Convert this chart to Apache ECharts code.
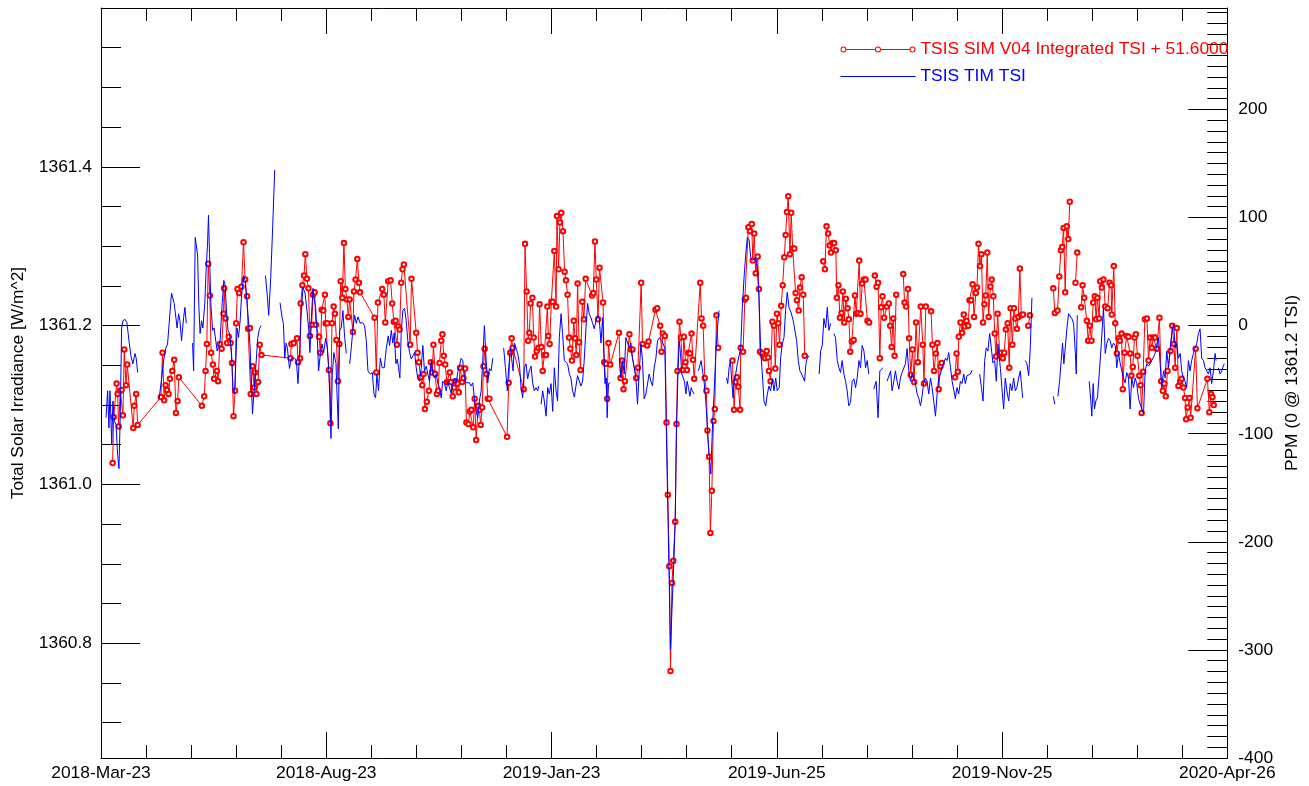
<!DOCTYPE html>
<html><head><meta charset="utf-8">
<script src="https://cdn.jsdelivr.net/npm/echarts@6/dist/echarts.min.js"></script>
<style>html,body{margin:0;padding:0;background:#fff}#c{width:1309px;height:786px}</style>
</head><body><div id="c"></div>
<script>
// x = days since 2018-03-23
const xTickDays = [0,153,306,459,612,765];
const xTickLabels = ['2018-Mar-23','2018-Aug-23','2019-Jan-23','2019-Jun-25','2019-Nov-25','2020-Apr-26'];
const leftMajor = [1360.8,1361.0,1361.2,1361.4];
const rightMajor = [-400,-300,-200,-100,0,100,200];
const simName = 'TSIS SIM V04 Integrated TSI + 51.6000';
const timName = 'TSIS TIM TSI';

// TSIS TIM TSI [day, W/m^2]; null = data gap
const timTSI = [
[3.4,1361.084],[4.5,1361.118],[5.4,1361.071],[6.1,1361.118],[7.3,1361.051],[8.1,1361.105],[9.0,1361.080],[10.2,1361.076],[11.3,1361.038],[12.2,1361.020],[13.1,1361.089],[14.0,1361.197],[14.9,1361.206],[16.3,1361.208],[17.6,1361.204],[19.0,1361.181],[20.3,1361.162],[21.7,1361.152],[23.1,1361.165],[23.9,1361.159],[24.9,1361.141],null,
[39.5,1361.108],[41.2,1361.134],[42.5,1361.156],[44.1,1361.172],[45.2,1361.177],[46.3,1361.203],[47.9,1361.241],[48.8,1361.242],[49.7,1361.228],[50.9,1361.229],[51.7,1361.197],[52.7,1361.215],[53.6,1361.206],[54.7,1361.181],[56.1,1361.210],[57.0,1361.223],[57.9,1361.203],null,
[62.2,1361.178],[62.9,1361.143],[64.0,1361.311],[65.6,1361.289],[66.5,1361.223],[67.3,1361.190],[68.3,1361.206],[69.2,1361.197],[70.5,1361.228],[71.4,1361.270],[72.4,1361.304],[73.0,1361.339],[73.7,1361.291],[74.6,1361.228],[75.8,1361.194],[76.8,1361.197],[78.9,1361.168],[80.9,1361.181],[82.3,1361.228],[83.4,1361.257],[84.3,1361.251],[85.5,1361.210],[86.3,1361.194],[87.3,1361.190],[88.6,1361.168],[89.7,1361.118],[90.7,1361.114],[91.6,1361.156],[92.4,1361.197],[93.4,1361.185],[94.5,1361.206],[95.6,1361.241],[96.8,1361.263],[97.9,1361.257],[99.0,1361.232],[100.2,1361.206],[101.3,1361.172],[102.2,1361.122],[102.9,1361.089],[104.0,1361.118],[105.3,1361.152],[106.5,1361.185],[107.6,1361.196],[108.7,1361.200],null,
[111.7,1361.263],[112.8,1361.241],[113.9,1361.213],[115.3,1361.261],[116.6,1361.324],[118.0,1361.396],null,
[121.6,1361.229],[123.0,1361.210],[123.9,1361.203],[124.8,1361.159],[125.7,1361.178],[126.6,1361.172],[128.0,1361.146],[129.3,1361.159],[131.4,1361.159],[132.7,1361.156],[133.8,1361.127],[135.0,1361.172],[136.1,1361.219],[137.2,1361.248],[138.6,1361.241],[139.9,1361.219],[141.1,1361.194],[141.9,1361.166],[142.9,1361.210],[144.0,1361.247],[144.9,1361.232],[145.8,1361.223],[147.0,1361.181],[147.8,1361.143],[149.0,1361.165],[150.1,1361.177],[151.2,1361.166],[152.6,1361.184],[153.7,1361.172],[154.6,1361.147],[155.5,1361.114],[156.2,1361.058],[157.1,1361.139],[158.2,1361.166],[159.6,1361.152],[160.3,1361.114],[161.2,1361.070],[162.1,1361.194],[163.2,1361.197],[164.3,1361.219],[165.5,1361.185],[166.6,1361.165],null,
[168.9,1361.152],[170.0,1361.172],[171.1,1361.196],[172.3,1361.213],[173.4,1361.203],[174.5,1361.211],[176.1,1361.203],[177.5,1361.204],[179.0,1361.200],[180.2,1361.181],[181.3,1361.143],[182.9,1361.139],[184.3,1361.141],[185.4,1361.114],[186.5,1361.109],[187.4,1361.139],[188.5,1361.118],[189.7,1361.159],[191.0,1361.147],[192.4,1361.147],[193.8,1361.172],[195.1,1361.187],[196.0,1361.175],[197.2,1361.194],[198.2,1361.178],[199.2,1361.191],[200.3,1361.152],[201.2,1361.158],[202.1,1361.147],[203.0,1361.134],[203.9,1361.190],[205.0,1361.219],[206.2,1361.222],[207.3,1361.206],[208.4,1361.181],[209.6,1361.166],[210.7,1361.158],[211.8,1361.159],[213.0,1361.166],[214.1,1361.147],[215.2,1361.133],[216.3,1361.130],[217.5,1361.146],[218.6,1361.175],[219.7,1361.143],[220.9,1361.149],[222.0,1361.139],[223.1,1361.130],[224.3,1361.156],[225.4,1361.139],[226.5,1361.134],[227.7,1361.139],[228.8,1361.127],[229.9,1361.122],[231.1,1361.109],[232.1,1361.130],[233.3,1361.127],[234.5,1361.118],[235.5,1361.130],[236.7,1361.122],[237.8,1361.115],[238.9,1361.127],[240.1,1361.134],[241.2,1361.127],[242.3,1361.141],[243.5,1361.149],[244.6,1361.159],[245.7,1361.156],[246.9,1361.133],[248.0,1361.128],[249.1,1361.130],[250.3,1361.128],[251.4,1361.124],[252.5,1361.128],[253.6,1361.109],[254.8,1361.092],[255.9,1361.084],[257.0,1361.105],[258.2,1361.118],[259.3,1361.156],[260.4,1361.200],[261.6,1361.156],[262.7,1361.128],[263.8,1361.146],[265.0,1361.143],[266.1,1361.159],null,
[273.5,1361.172],[274.7,1361.147],[276.0,1361.118],[276.9,1361.147],[278.1,1361.172],[278.9,1361.159],[279.9,1361.143],[280.8,1361.178],[281.9,1361.172],[283.0,1361.165],[284.2,1361.152],[285.3,1361.122],[286.4,1361.109],[287.6,1361.147],[288.7,1361.152],[289.8,1361.133],[290.9,1361.143],[292.1,1361.149],[293.2,1361.128],[294.3,1361.118],[295.5,1361.122],[296.6,1361.118],[297.3,1361.124],null,
[298.9,1361.101],[300.0,1361.118],[301.1,1361.105],[302.3,1361.086],[303.4,1361.122],[304.5,1361.114],[305.7,1361.127],[306.8,1361.092],[307.9,1361.147],[309.1,1361.118],[310.1,1361.105],[311.3,1361.185],[312.5,1361.215],[313.5,1361.190],[314.7,1361.156],[315.8,1361.156],[316.9,1361.152],[318.1,1361.139],[319.2,1361.134],[320.3,1361.118],[321.5,1361.110],[322.6,1361.124],[323.7,1361.137],[324.9,1361.139],[326.0,1361.124],[327.1,1361.130],[328.2,1361.156],[329.4,1361.197],[330.5,1361.228],[331.6,1361.215],[332.8,1361.210],[333.9,1361.203],[335.0,1361.196],[336.2,1361.206],[337.3,1361.213],[338.4,1361.209],[339.6,1361.178],[340.7,1361.210],[341.4,1361.172],[342.3,1361.127],[343.2,1361.134],[343.8,1361.084],[344.7,1361.127],[345.9,1361.128],null,
[352.0,1361.159],[353.1,1361.134],[354.3,1361.156],[355.4,1361.139],[356.5,1361.185],[357.6,1361.187],[358.8,1361.172],[359.9,1361.178],[361.0,1361.159],[362.2,1361.147],[363.3,1361.134],[364.4,1361.101],[365.5,1361.139],[366.7,1361.177],[367.8,1361.156],[368.9,1361.108],[370.1,1361.114],[371.2,1361.114],[372.3,1361.139],[373.5,1361.130],[374.6,1361.124],[375.7,1361.147],[376.9,1361.159],[378.0,1361.181],[379.3,1361.185],[380.7,1361.181],[381.6,1361.178],[383.0,1361.172],[383.9,1361.076],[384.8,1360.987],[385.7,1360.903],[386.8,1360.792],[388.2,1360.861],[389.1,1360.903],[390.0,1360.953],[390.9,1361.071],[391.8,1361.134],[392.7,1361.181],[393.6,1361.165],[394.5,1361.139],[395.4,1361.141],[396.3,1361.130],[397.3,1361.114],[398.1,1361.130],[399.0,1361.122],[400.0,1361.111],[400.9,1361.122],[401.7,1361.118],[402.9,1361.114],null,
[405.8,1361.143],[406.7,1361.141],[407.6,1361.156],[408.5,1361.156],[409.6,1361.130],[410.8,1361.105],[411.9,1361.071],[413.0,1361.038],[414.2,1361.013],[415.3,1361.071],[416.4,1361.114],[417.6,1361.165],[418.7,1361.197],[419.8,1361.219],null,
[424.8,1361.134],[425.7,1361.127],[426.6,1361.147],[427.5,1361.156],[428.4,1361.130],[429.3,1361.109],[430.2,1361.134],[431.1,1361.139],[432.2,1361.152],[433.4,1361.153],[434.5,1361.172],[435.6,1361.223],[436.8,1361.261],[437.9,1361.289],[439.0,1361.311],[440.2,1361.308],[441.3,1361.286],[442.4,1361.282],[443.5,1361.282],[444.7,1361.286],[445.8,1361.273],[446.9,1361.235],[448.1,1361.168],[449.2,1361.139],[450.3,1361.105],[451.5,1361.099],[452.6,1361.114],[453.7,1361.124],[454.8,1361.118],[456.0,1361.133],[457.1,1361.118],[458.3,1361.134],[459.3,1361.118],[460.7,1361.122],[461.6,1361.159],[462.7,1361.177],[463.9,1361.185],[465.0,1361.219],[466.1,1361.242],[467.3,1361.223],[468.8,1361.216],[470.2,1361.206],[471.3,1361.204],[472.5,1361.181],[473.6,1361.156],[474.7,1361.143],[475.9,1361.139],[477.0,1361.134],[477.9,1361.130],[478.8,1361.152],[479.7,1361.159],[480.8,1361.162],null,
[487.8,1361.139],[488.8,1361.168],[489.9,1361.175],[491.0,1361.209],[492.2,1361.197],[493.3,1361.223],[494.4,1361.194],[495.6,1361.203],null,
[497.8,1361.190],[498.9,1361.185],[500.1,1361.156],[501.2,1361.147],[502.3,1361.141],[503.4,1361.156],[504.6,1361.139],[505.7,1361.130],[506.8,1361.118],[507.9,1361.099],[509.1,1361.103],[510.2,1361.130],[511.4,1361.133],[512.5,1361.122],[513.6,1361.134],[514.8,1361.156],[515.9,1361.147],[517.0,1361.175],[518.2,1361.168],[519.3,1361.147],[520.4,1361.156],[521.5,1361.139],null,
[524.9,1361.120],[526.5,1361.130],[527.8,1361.084],[529.0,1361.143],[530.1,1361.141],[531.2,1361.147],null,
[533.9,1361.130],[535.1,1361.128],[536.3,1361.143],[537.3,1361.118],[538.5,1361.130],[539.6,1361.143],[540.7,1361.130],[541.9,1361.120],[543.0,1361.134],[544.1,1361.141],[545.3,1361.139],[546.4,1361.152],[547.5,1361.171],[548.7,1361.143],[549.8,1361.130],[550.9,1361.139],[552.1,1361.139],[553.2,1361.127],[554.3,1361.114],[555.4,1361.109],[556.6,1361.099],[557.7,1361.111],[558.8,1361.128],[560.0,1361.134],[561.1,1361.130],[562.2,1361.114],[563.4,1361.134],[564.5,1361.122],[565.6,1361.105],[566.8,1361.086],[567.9,1361.114],[569.0,1361.134],[570.2,1361.139],[571.3,1361.147],[572.4,1361.153],[573.6,1361.159],[574.7,1361.156],[575.8,1361.166],[577.0,1361.147],[578.1,1361.130],[579.3,1361.130],[580.3,1361.108],[581.4,1361.122],[582.6,1361.114],[583.7,1361.130],[584.8,1361.127],[586.0,1361.139],[587.1,1361.127],[588.2,1361.137],[589.4,1361.139],[590.5,1361.139],[591.6,1361.144],null,
[596.8,1361.139],[598.0,1361.122],[599.1,1361.105],[600.2,1361.156],[601.3,1361.172],[602.4,1361.168],[603.6,1361.190],[604.7,1361.172],[605.8,1361.153],[607.0,1361.156],[608.1,1361.130],[609.2,1361.177],[610.9,1361.146],[611.9,1361.122],[613.1,1361.095],[614.2,1361.134],[615.3,1361.118],[616.5,1361.105],[617.6,1361.127],[618.7,1361.118],[619.9,1361.134],[621.0,1361.118],[622.1,1361.122],[623.3,1361.134],[624.4,1361.143],[626.0,1361.109],null,
[627.8,1361.156],[628.9,1361.152],[630.1,1361.137],[631.2,1361.172],[632.3,1361.235],null,
[646.8,1361.111],[647.9,1361.101],null,
[649.9,1361.111],[651.1,1361.130],[652.2,1361.156],[653.1,1361.178],[654.0,1361.152],[655.0,1361.152],[656.1,1361.197],[657.2,1361.215],[658.4,1361.216],[659.4,1361.209],[660.6,1361.203],[661.8,1361.165],[662.4,1361.139],[663.1,1361.213],null,
[671.2,1361.130],[672.3,1361.105],[673.0,1361.086],[673.9,1361.127],[674.8,1361.095],[675.7,1361.105],[676.8,1361.109],[678.0,1361.139],[679.1,1361.168],[680.2,1361.168],[680.9,1361.222],[682.1,1361.165],[683.1,1361.177],[684.3,1361.184],[685.5,1361.181],[686.5,1361.172],[687.7,1361.178],[688.9,1361.175],[689.9,1361.147],[691.1,1361.165],[692.3,1361.152],[693.3,1361.152],[694.5,1361.134],[695.6,1361.128],[696.7,1361.141],[697.9,1361.134],[699.0,1361.095],[700.1,1361.134],[701.3,1361.122],[702.4,1361.134],[703.5,1361.127],[704.7,1361.108],[705.8,1361.108],[706.9,1361.095],[708.1,1361.089],[709.2,1361.143],[710.3,1361.152],[711.5,1361.149],[713.7,1361.156],[716.0,1361.165],[718.2,1361.185],[719.4,1361.152],[720.5,1361.122],[721.7,1361.143],[722.8,1361.134],[723.9,1361.168],[725.1,1361.147],[726.2,1361.172],[727.3,1361.190],[728.5,1361.203],[729.6,1361.172],[730.6,1361.177],[731.8,1361.159],[733.0,1361.165],[734.0,1361.143],[735.2,1361.134],[736.3,1361.130],[737.4,1361.122],[738.6,1361.156],[739.7,1361.143],[740.8,1361.156],[742.0,1361.165],[743.1,1361.172],[744.2,1361.177],[745.4,1361.190],[746.5,1361.196],[747.6,1361.159],[748.8,1361.156],[749.9,1361.147],[751.0,1361.149],[752.2,1361.139],[753.3,1361.147],[754.4,1361.127],[755.6,1361.143],[756.7,1361.165],[757.4,1361.156],null,
[758.9,1361.147],[760.1,1361.139],[761.2,1361.143],[762.3,1361.149],[763.0,1361.152]
];

// TSIS SIM V04 integrated TSI + 51.6 [day, W/m^2]; null = data gap
const simTSI = [
[7.9,1361.027],[8.6,1361.085],[10.6,1361.127],[11.3,1361.114],[12.0,1361.073],[13.1,1361.118],[14.0,1361.119],[14.9,1361.087],[15.8,1361.170],[17.0,1361.125],[17.8,1361.151],[21.9,1361.071],[22.6,1361.099],[23.9,1361.114],[24.9,1361.075],[40.7,1361.110],[41.8,1361.166],[42.9,1361.106],[43.9,1361.125],[44.8,1361.119],[45.9,1361.114],[46.8,1361.133],[48.4,1361.143],[49.7,1361.157],[50.9,1361.090],[52.0,1361.105],[52.9,1361.135],[68.5,1361.099],[70.1,1361.111],[71.0,1361.143],[71.9,1361.177],[72.8,1361.278],[73.9,1361.238],[74.8,1361.166],[76.0,1361.151],[76.8,1361.133],[78.7,1361.143],[79.5,1361.130],[80.7,1361.177],[81.9,1361.171],[83.2,1361.215],[83.6,1361.247],[84.6,1361.209],[85.7,1361.178],[86.8,1361.186],[88.0,1361.178],[89.0,1361.153],[90.0,1361.086],[91.1,1361.118],[91.8,1361.203],[92.7,1361.246],[93.8,1361.241],[95.4,1361.249],[96.8,1361.305],[97.9,1361.258],[99.2,1361.237],[99.9,1361.196],[101.1,1361.197],[101.7,1361.114],[102.9,1361.149],[104.0,1361.122],[104.6,1361.141],[105.6,1361.114],[106.7,1361.129],[107.8,1361.176],[109.0,1361.163],[128.7,1361.159],[129.3,1361.177],[130.9,1361.178],[133.1,1361.184],[133.8,1361.154],[135.2,1361.159],[135.6,1361.228],[136.8,1361.251],[137.9,1361.263],[138.8,1361.290],[139.9,1361.259],[140.9,1361.247],[141.9,1361.187],[143.1,1361.201],[144.0,1361.239],[145.1,1361.242],[146.0,1361.201],[148.1,1361.186],[149.0,1361.166],[149.9,1361.220],[151.0,1361.219],[152.1,1361.239],[152.6,1361.203],[153.7,1361.203],[154.8,1361.144],[155.8,1361.077],[156.9,1361.203],[158.0,1361.224],[158.9,1361.215],[159.9,1361.182],[160.9,1361.130],[161.9,1361.177],[162.8,1361.256],[163.9,1361.235],[165.0,1361.304],[166.0,1361.246],[167.0,1361.233],[168.0,1361.211],[168.9,1361.233],[171.1,1361.192],[171.8,1361.243],[172.9,1361.258],[174.1,1361.284],[175.2,1361.254],[175.9,1361.242],[185.8,1361.210],[187.0,1361.141],[188.1,1361.229],[191.0,1361.246],[192.1,1361.239],[193.1,1361.204],[195.1,1361.256],[196.7,1361.257],[197.8,1361.228],[198.9,1361.205],[200.1,1361.206],[201.0,1361.176],[201.9,1361.199],[202.8,1361.195],[203.9,1361.254],[204.8,1361.271],[205.7,1361.277],[210.0,1361.176],[210.9,1361.259],[214.1,1361.191],[215.0,1361.166],[215.9,1361.154],[217.0,1361.135],[218.2,1361.125],[219.1,1361.139],[220.0,1361.095],[221.3,1361.104],[222.7,1361.118],[224.0,1361.154],[225.0,1361.141],[225.8,1361.176],[227.0,1361.139],[228.1,1361.114],[229.0,1361.118],[229.9,1361.153],[231.1,1361.181],[231.9,1361.189],[232.8,1361.162],[233.8,1361.151],[234.9,1361.129],[236.0,1361.129],[236.9,1361.141],[237.8,1361.129],[238.9,1361.111],[239.9,1361.122],[241.0,1361.130],[242.1,1361.127],[243.0,1361.116],[243.9,1361.147],[245.3,1361.129],[246.2,1361.134],[247.3,1361.146],[248.2,1361.078],[249.6,1361.076],[250.5,1361.092],[251.6,1361.094],[252.8,1361.072],[253.8,1361.108],[254.8,1361.056],[256.2,1361.099],[257.0,1361.094],[257.9,1361.075],[258.9,1361.097],[259.8,1361.149],[260.6,1361.171],[261.8,1361.139],[262.7,1361.108],[263.8,1361.108],[275.8,1361.060],[276.9,1361.128],[277.9,1361.166],[278.9,1361.184],[279.6,1361.172],[287.1,1361.120],[288.0,1361.303],[289.1,1361.243],[290.1,1361.181],[290.9,1361.191],[291.8,1361.228],[293.0,1361.235],[293.9,1361.185],[294.8,1361.161],[295.9,1361.168],[297.1,1361.172],[297.9,1361.227],[299.1,1361.173],[300.0,1361.143],[301.1,1361.163],[302.3,1361.163],[303.2,1361.224],[303.8,1361.187],[304.7,1361.177],[305.9,1361.230],[306.8,1361.230],[307.9,1361.294],[309.1,1361.224],[309.7,1361.338],[310.8,1361.271],[311.7,1361.330],[312.6,1361.342],[313.8,1361.319],[314.9,1361.268],[315.8,1361.257],[316.9,1361.239],[317.9,1361.185],[318.8,1361.171],[319.9,1361.156],[321.1,1361.206],[322.0,1361.184],[322.8,1361.163],[323.7,1361.253],[324.7,1361.179],[325.7,1361.144],[326.9,1361.230],[328.0,1361.208],[329.2,1361.259],[333.5,1361.238],[334.4,1361.241],[335.5,1361.306],[336.4,1361.258],[337.6,1361.208],[338.6,1361.273],[341.0,1361.229],[341.8,1361.154],[343.0,1361.152],[343.8,1361.108],[344.7,1361.178],[345.9,1361.151],[351.8,1361.191],[352.9,1361.134],[354.0,1361.156],[354.9,1361.120],[355.9,1361.130],[358.9,1361.189],[359.9,1361.170],[361.0,1361.170],[363.5,1361.134],[364.7,1361.147],[366.9,1361.254],[367.8,1361.177],[371.0,1361.175],[371.9,1361.180],[376.6,1361.220],[377.8,1361.222],[379.8,1361.200],[380.7,1361.167],[381.6,1361.190],[383.0,1361.187],[384.1,1361.078],[385.0,1360.987],[386.0,1360.897],[386.8,1360.765],[387.8,1360.876],[388.7,1360.904],[390.0,1360.953],[390.9,1361.076],[391.6,1361.143],[392.9,1361.205],[393.9,1361.185],[395.0,1361.144],[395.9,1361.186],[397.0,1361.154],[398.0,1361.144],[398.9,1361.166],[400.0,1361.165],[401.1,1361.190],[402.1,1361.157],[402.9,1361.133],[407.0,1361.254],[407.9,1361.209],[409.0,1361.200],[410.1,1361.134],[411.2,1361.118],[411.9,1361.068],[413.0,1361.035],[413.9,1360.939],[414.9,1360.992],[416.0,1361.080],[416.9,1361.095],[418.0,1361.213],[419.2,1361.172],null,
[428.9,1361.156],[430.0,1361.094],[430.9,1361.129],[432.0,1361.135],[432.9,1361.123],[434.1,1361.094],[434.5,1361.172],[436.1,1361.167],[437.3,1361.233],[438.1,1361.235],[439.7,1361.324],[440.8,1361.319],[442.0,1361.328],[442.7,1361.282],[443.7,1361.316],[444.7,1361.266],[446.0,1361.287],[446.9,1361.246],[447.6,1361.167],[449.0,1361.165],[450.1,1361.161],[451.0,1361.159],[452.2,1361.168],[453.0,1361.160],[453.7,1361.143],[454.8,1361.130],[456.0,1361.205],[457.1,1361.200],[458.0,1361.146],[459.1,1361.215],[460.0,1361.203],[460.9,1361.176],[462.0,1361.225],[463.0,1361.251],[464.1,1361.286],[465.0,1361.314],[465.9,1361.343],[466.8,1361.363],[467.9,1361.290],[468.8,1361.342],[469.8,1361.297],[470.9,1361.297],[471.8,1361.241],[472.7,1361.232],[473.9,1361.219],[474.8,1361.248],[475.9,1361.261],[477.0,1361.239],[478.0,1361.162],null,
[490.5,1361.281],[491.7,1361.271],[492.8,1361.325],[493.9,1361.316],[494.9,1361.301],[495.8,1361.292],[496.9,1361.304],[498.0,1361.304],[499.1,1361.295],[499.8,1361.235],[500.9,1361.251],[501.9,1361.210],[503.0,1361.216],[503.9,1361.243],[504.8,1361.204],[505.9,1361.234],[507.1,1361.222],[508.0,1361.208],[508.9,1361.167],[510.0,1361.180],[511.2,1361.182],[512.1,1361.238],[513.0,1361.215],[514.2,1361.216],[515.0,1361.282],[515.9,1361.215],[517.0,1361.253],[518.2,1361.258],[519.3,1361.258],[520.6,1361.206],[521.7,1361.204],null,
[525.6,1361.263],[526.8,1361.249],[527.8,1361.254],[529.0,1361.159],[529.9,1361.223],[530.8,1361.237],[531.9,1361.210],[533.8,1361.224],[535.1,1361.228],[536.0,1361.200],[537.0,1361.173],[538.1,1361.209],[539.0,1361.162],[540.1,1361.239],null,
[544.9,1361.265],[545.8,1361.229],[546.9,1361.224],[548.1,1361.246],[548.9,1361.184],[550.0,1361.138],[551.2,1361.170],[552.3,1361.129],[553.6,1361.204],[554.8,1361.154],[556.8,1361.224],[558.2,1361.176],[559.0,1361.127],[560.2,1361.224],[563.8,1361.218],[564.7,1361.176],[565.8,1361.143],[567.0,1361.165],[568.1,1361.178],[569.0,1361.120],[570.2,1361.149],[571.0,1361.153],null,
[580.1,1361.135],[581.1,1361.165],[582.0,1361.142],[582.6,1361.186],[583.8,1361.204],[584.9,1361.191],[586.0,1361.214],[586.7,1361.199],[587.9,1361.206],[589.0,1361.200],[589.9,1361.232],[591.0,1361.232],[592.0,1361.252],[593.0,1361.211],[594.2,1361.241],[595.0,1361.248],[596.0,1361.303],[597.0,1361.275],[598.0,1361.290],[599.1,1361.204],[600.0,1361.227],[600.9,1361.238],[602.0,1361.292],[602.9,1361.211],[604.1,1361.249],[605.0,1361.258],[606.1,1361.237],[607.0,1361.190],[607.9,1361.161],[609.0,1361.215],[610.4,1361.165],[611.5,1361.166],[612.6,1361.159],[613.5,1361.166],[614.6,1361.195],[615.8,1361.203],[616.9,1361.147],[617.8,1361.222],[619.0,1361.176],[620.1,1361.222],[621.0,1361.209],[622.1,1361.196],[623.1,1361.211],[624.1,1361.272],[625.1,1361.213],[626.2,1361.214],null,
[629.8,1361.200],[630.9,1361.213],null,
[646.8,1361.247],[647.9,1361.216],[649.7,1361.219],[650.9,1361.262],[652.0,1361.295],[652.9,1361.299],[653.8,1361.323],[654.9,1361.242],[656.0,1361.325],[657.0,1361.309],[658.0,1361.356],null,
[661.9,1361.254],[663.1,1361.292],null,
[665.8,1361.223],[666.7,1361.251],[667.8,1361.235],[669.6,1361.206],[670.5,1361.181],[671.6,1361.200],[672.8,1361.181],[673.9,1361.229],[675.0,1361.237],[675.9,1361.208],[676.8,1361.235],[678.0,1361.209],[678.7,1361.256],[679.8,1361.248],[680.9,1361.258],[682.1,1361.224],[683.8,1361.222],[685.0,1361.254],[686.1,1361.251],[686.5,1361.214],[687.9,1361.275],[688.9,1361.203],[690.0,1361.165],[691.1,1361.184],[692.0,1361.181],[693.2,1361.190],[694.0,1361.120],[695.2,1361.166],[696.7,1361.187],[697.9,1361.186],[699.0,1361.165],[699.9,1361.137],[700.8,1361.148],[702.0,1361.185],[702.9,1361.189],[704.0,1361.162],[705.2,1361.137],[706.1,1361.125],[706.8,1361.090],[707.9,1361.142],[709.0,1361.208],[710.4,1361.209],[711.5,1361.156],[712.6,1361.185],[713.7,1361.172],[714.8,1361.185],[716.0,1361.185],[717.1,1361.171],[718.9,1361.210],[720.1,1361.130],[721.2,1361.118],[722.3,1361.127],[723.2,1361.111],[724.4,1361.143],[726.4,1361.168],[727.6,1361.200],[728.7,1361.177],[729.6,1361.147],[730.7,1361.197],[731.8,1361.124],[733.0,1361.130],[734.0,1361.133],[735.2,1361.122],[736.3,1361.109],[737.0,1361.082],[738.1,1361.097],[739.3,1361.109],[740.1,1361.084],[743.5,1361.171],[744.7,1361.096],[751.5,1361.133],[752.8,1361.091],[754.0,1361.114],[754.9,1361.110],[755.8,1361.100]
];

const Y_MIN = 1361.2 * (1 - 400e-6);
const Y_MAX = 1361.6;
const PPM_MAX = (Y_MAX / 1361.2 - 1) * 1e6;
const leftMinor = [];
for (let k = 14; k <= 32; k++) leftMinor.push(+(1360 + k * 0.05).toFixed(2));
const rightMinor = [];
for (let p = -400; p <= 290; p += 10) rightMinor.push(p);

function toSeries(arr) {
  return arr.map((p, i) => {
    if (p) return p;
    const a = arr[i - 1], b = arr[i + 1];
    return [(a[0] + b[0]) / 2, '-'];
  });
}

// legend icons (75 x 6 box): line with hollow circles at ends and middle; plain thin line
function ring(cx) {
  return 'M' + (cx + 3) + ',3 A3,3 0 1,0 ' + (cx - 3) + ',3 A3,3 0 1,0 ' + (cx + 3) + ',3 Z ' +
         'M' + (cx + 2) + ',3 A2,2 0 1,1 ' + (cx - 2) + ',3 A2,2 0 1,1 ' + (cx + 2) + ',3 Z ';
}
const simIcon = 'path://' + ring(3) + ring(37.5) + ring(72) +
  'M6,2.5 L34.5,2.5 L34.5,3.5 L6,3.5 Z M40.5,2.5 L69,2.5 L69,3.5 L40.5,3.5 Z';

const FONT = '"Liberation Sans", Arial, Helvetica, sans-serif';
const FS = 17.4;
const black = '#000';
const tickLine = { color: black, width: 1 };
const baseX = {
  type: 'value', min: 0, max: 765, interval: 153,
  axisLine: { show: true, onZero: false, lineStyle: tickLine },
  axisTick: { show: true, inside: true, length: 26, lineStyle: tickLine },
  minorTick: { show: true, splitNumber: 5, length: 13, lineStyle: tickLine },
  splitLine: { show: false }, minorSplitLine: { show: false }
};

const chart = echarts.init(document.getElementById('c'), null, { renderer: 'canvas' });
chart.setOption({
  animation: false,
  backgroundColor: '#fff',
  textStyle: { fontFamily: FONT },
  grid: { left: 101, right: 80, top: 8, bottom: 28, containLabel: false },
  legend: {
    orient: 'vertical', left: 840, top: 41, padding: 0, itemWidth: 75, itemHeight: 6, itemGap: 10,
    selectedMode: false,
    textStyle: { fontSize: FS, fontFamily: FONT },
    data: [
      { name: simName, icon: simIcon, textStyle: { color: '#ff0000' },
        itemStyle: { color: '#ff0000', borderWidth: 0, opacity: 1 } },
      { name: timName, textStyle: { color: '#0000ff' }, itemStyle: { opacity: 0 },
        lineStyle: { width: 1, color: '#0000ff' } }
    ]
  },
  xAxis: [
    Object.assign({}, baseX, {
      position: 'bottom',
      axisLabel: {
        show: true, color: black, fontSize: FS, fontFamily: FONT, margin: 7,
        showMinLabel: true, showMaxLabel: true, hideOverlap: false,
        formatter: v => { const i = xTickDays.indexOf(Math.round(v)); return i >= 0 ? xTickLabels[i] : ''; }
      }
    }),
    Object.assign({}, baseX, { position: 'top', axisLabel: { show: false } })
  ],
  yAxis: [
    {
      type: 'value', min: Y_MIN, max: Y_MAX, position: 'left',
      axisLine: { show: true, onZero: false, lineStyle: tickLine },
      axisTick: { show: true, inside: true, length: 39, customValues: leftMajor, lineStyle: tickLine },
      axisLabel: { show: true, customValues: leftMajor, color: black, fontSize: FS, fontFamily: FONT, margin: 9, formatter: v => v.toFixed(1) },
      splitLine: { show: false },
      name: 'Total Solar Irradiance [W/m^2]', nameLocation: 'middle', nameGap: 74,
      nameTextStyle: { color: black, fontSize: FS, fontFamily: FONT }
    },
    {
      type: 'value', min: Y_MIN, max: Y_MAX, position: 'left',
      axisLine: { show: false, onZero: false },
      axisTick: { show: true, inside: true, length: 20, customValues: leftMinor, lineStyle: tickLine },
      axisLabel: { show: false }, splitLine: { show: false }
    },
    {
      type: 'value', min: -400, max: PPM_MAX, position: 'right',
      axisLine: { show: true, onZero: false, lineStyle: tickLine },
      axisTick: { show: true, inside: true, length: 39, customValues: rightMajor, lineStyle: tickLine },
      axisLabel: { show: true, customValues: rightMajor, color: black, fontSize: FS, fontFamily: FONT, margin: 11 },
      splitLine: { show: false },
      name: 'PPM (0 @ 1361.2 TSI)', nameLocation: 'middle', nameGap: 56, nameRotate: 90,
      nameTextStyle: { color: black, fontSize: FS, fontFamily: FONT }
    },
    {
      type: 'value', min: -400, max: PPM_MAX, position: 'right',
      axisLine: { show: false, onZero: false },
      axisTick: { show: true, inside: true, length: 20, customValues: rightMinor, lineStyle: tickLine },
      axisLabel: { show: false }, splitLine: { show: false }
    }
  ],
  series: [
    {
      name: simName, type: 'line', xAxisIndex: 0, yAxisIndex: 0,
      data: toSeries(simTSI), connectNulls: false,
      symbol: 'emptyCircle', symbolSize: 4.5, showSymbol: true, showAllSymbol: true,
      lineStyle: { color: '#ff0000', width: 1 },
      itemStyle: { color: '#ff0000', borderColor: '#ff0000', borderWidth: 1 },
      emphasis: { disabled: true }, z: 2
    },
    {
      name: timName, type: 'line', xAxisIndex: 0, yAxisIndex: 0,
      data: toSeries(timTSI), connectNulls: false,
      symbol: 'none', showSymbol: false,
      lineStyle: { color: '#0000ff', width: 1 },
      itemStyle: { color: '#0000ff' },
      emphasis: { disabled: true }, z: 3
    }
  ]
});
</script>
</body></html>
